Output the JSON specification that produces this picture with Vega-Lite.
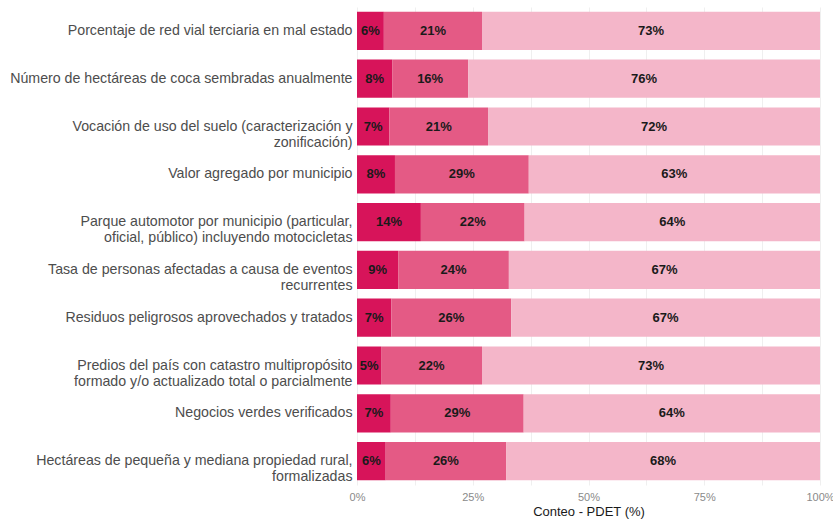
{
  "$schema": "https://vega.github.io/schema/vega-lite/v6.json",
  "autosize": {"type": "none"},
  "width": 463,
  "height": 478,
  "padding": {"left": 357, "top": 7, "right": 13, "bottom": 40},
  "background": "white",
  "config": {"view": {"stroke": null}, "font": "Liberation Sans"},
  "data": {"values": [
    {"ind": "Porcentaje de red vial terciaria en mal estado", "cat": "A", "ord": 1, "v": 5.8, "lab": "6%"},
    {"ind": "Porcentaje de red vial terciaria en mal estado", "cat": "B", "ord": 2, "v": 21.2, "lab": "21%"},
    {"ind": "Porcentaje de red vial terciaria en mal estado", "cat": "C", "ord": 3, "v": 73.0, "lab": "73%"},
    {"ind": "Número de hectáreas de coca sembradas anualmente", "cat": "A", "ord": 1, "v": 7.6, "lab": "8%"},
    {"ind": "Número de hectáreas de coca sembradas anualmente", "cat": "B", "ord": 2, "v": 16.4, "lab": "16%"},
    {"ind": "Número de hectáreas de coca sembradas anualmente", "cat": "C", "ord": 3, "v": 76.0, "lab": "76%"},
    {"ind": "Vocación de uso del suelo (caracterización y|zonificación)", "cat": "A", "ord": 1, "v": 7.0, "lab": "7%"},
    {"ind": "Vocación de uso del suelo (caracterización y|zonificación)", "cat": "B", "ord": 2, "v": 21.3, "lab": "21%"},
    {"ind": "Vocación de uso del suelo (caracterización y|zonificación)", "cat": "C", "ord": 3, "v": 71.7, "lab": "72%"},
    {"ind": "Valor agregado por municipio", "cat": "A", "ord": 1, "v": 8.2, "lab": "8%"},
    {"ind": "Valor agregado por municipio", "cat": "B", "ord": 2, "v": 28.9, "lab": "29%"},
    {"ind": "Valor agregado por municipio", "cat": "C", "ord": 3, "v": 62.9, "lab": "63%"},
    {"ind": "Parque automotor por municipio (particular,|oficial, público) incluyendo motocicletas", "cat": "A", "ord": 1, "v": 13.8, "lab": "14%"},
    {"ind": "Parque automotor por municipio (particular,|oficial, público) incluyendo motocicletas", "cat": "B", "ord": 2, "v": 22.4, "lab": "22%"},
    {"ind": "Parque automotor por municipio (particular,|oficial, público) incluyendo motocicletas", "cat": "C", "ord": 3, "v": 63.8, "lab": "64%"},
    {"ind": "Tasa de personas afectadas a causa de eventos|recurrentes", "cat": "A", "ord": 1, "v": 8.9, "lab": "9%"},
    {"ind": "Tasa de personas afectadas a causa de eventos|recurrentes", "cat": "B", "ord": 2, "v": 23.9, "lab": "24%"},
    {"ind": "Tasa de personas afectadas a causa de eventos|recurrentes", "cat": "C", "ord": 3, "v": 67.2, "lab": "67%"},
    {"ind": "Residuos peligrosos aprovechados y tratados", "cat": "A", "ord": 1, "v": 7.4, "lab": "7%"},
    {"ind": "Residuos peligrosos aprovechados y tratados", "cat": "B", "ord": 2, "v": 25.9, "lab": "26%"},
    {"ind": "Residuos peligrosos aprovechados y tratados", "cat": "C", "ord": 3, "v": 66.7, "lab": "67%"},
    {"ind": "Predios del país con catastro multipropósito|formado y/o actualizado total o parcialmente", "cat": "A", "ord": 1, "v": 5.2, "lab": "5%"},
    {"ind": "Predios del país con catastro multipropósito|formado y/o actualizado total o parcialmente", "cat": "B", "ord": 2, "v": 21.8, "lab": "22%"},
    {"ind": "Predios del país con catastro multipropósito|formado y/o actualizado total o parcialmente", "cat": "C", "ord": 3, "v": 73.0, "lab": "73%"},
    {"ind": "Negocios verdes verificados", "cat": "A", "ord": 1, "v": 7.3, "lab": "7%"},
    {"ind": "Negocios verdes verificados", "cat": "B", "ord": 2, "v": 28.7, "lab": "29%"},
    {"ind": "Negocios verdes verificados", "cat": "C", "ord": 3, "v": 64.0, "lab": "64%"},
    {"ind": "Hectáreas de pequeña y mediana propiedad rural,|formalizadas", "cat": "A", "ord": 1, "v": 6.2, "lab": "6%"},
    {"ind": "Hectáreas de pequeña y mediana propiedad rural,|formalizadas", "cat": "B", "ord": 2, "v": 26.0, "lab": "26%"},
    {"ind": "Hectáreas de pequeña y mediana propiedad rural,|formalizadas", "cat": "C", "ord": 3, "v": 67.8, "lab": "68%"}
  ]},
  "transform": [
    {"stack": "v", "groupby": ["ind"], "sort": [{"field": "ord"}], "as": ["s0", "s1"]}
  ],
  "encoding": {
    "y": {
      "field": "ind", "type": "nominal", "sort": null,
      "scale": {"paddingInner": 0.2, "paddingOuter": 0.1},
      "axis": {
        "title": null, "domain": false, "ticks": false, "grid": false,
        "labelExpr": "split(datum.label, '|')",
        "labelFontSize": 14.2, "labelColor": "#4d4d4d", "labelPadding": 5,
        "labelLimit": 360, "labelLineHeight": 16
      }
    }
  },
  "layer": [
    {
      "mark": {"type": "bar"},
      "encoding": {
        "x": {
          "field": "s0", "type": "quantitative",
          "scale": {"domain": [0, 100], "nice": false},
          "axis": {
            "values": [0, 12.5, 25, 37.5, 50, 62.5, 75, 87.5, 100],
            "labelExpr": "datum.value % 25 == 0 ? datum.value + '%' : ''",
            "title": "Conteo - PDET (%)", "titleFontSize": 13, "titleFontWeight": "normal",
            "titleColor": "#1a1a1a", "titlePadding": 3,
            "labelFontSize": 11, "labelColor": "#8a8a8a", "labelPadding": 6,
            "domain": false, "ticks": false,
            "grid": true, "gridColor": "#efefef", "gridWidth": 1,
            "labelFlush": false
          }
        },
        "x2": {"field": "s1"},
        "color": {
          "field": "cat", "type": "nominal", "legend": null,
          "scale": {"domain": ["A", "B", "C"], "range": ["#d7145a", "#e45a85", "#f4b6c9"]}
        }
      }
    },
    {
      "transform": [
        {"fold": ["s0", "s1"], "as": ["edge", "pos"]},
        {"aggregate": [{"op": "mean", "field": "pos", "as": "mid"}], "groupby": ["ind", "cat", "lab"]}
      ],
      "mark": {"type": "text", "fontWeight": "bold", "fontSize": 13, "color": "#1a1a1a", "align": "center"},
      "encoding": {
        "x": {"field": "mid", "type": "quantitative"},
        "text": {"field": "lab"}
      }
    }
  ]
}
